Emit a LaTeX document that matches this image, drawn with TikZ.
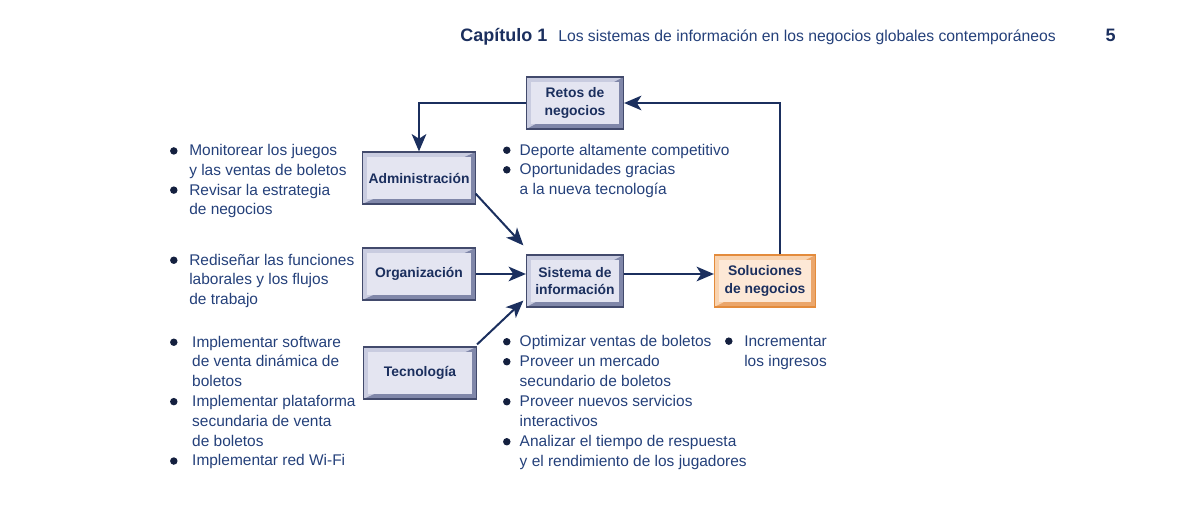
\documentclass[tikz,border=0pt]{standalone}
\usepackage{fontspec}
\setmainfont{Liberation Sans}
\usetikzlibrary{arrows.meta}

\definecolor{navy}{HTML}{1B2F5E}
\definecolor{dotcol}{HTML}{14203F}
\definecolor{txtblue}{HTML}{24407A}
\definecolor{boxline}{HTML}{424A6C}
\definecolor{bevlight}{HTML}{C9CCE0}
\definecolor{bevdark}{HTML}{8087A9}
\definecolor{boxfill}{HTML}{E4E5F1}
\definecolor{orline}{HTML}{E38B3C}
\definecolor{orlight}{HTML}{F9D3AF}
\definecolor{ordark}{HTML}{EBA66B}
\definecolor{orfill}{HTML}{FDE8D6}

\newcommand\boxfont{\fontsize{10.4}{13}\selectfont\bfseries}
\newcommand\bulletfont{\fontsize{11.6}{14.7}\selectfont}
\newcommand\bul[1][14.4pt]{\makebox[#1][l]{\tikz[baseline=0pt]\fill[dotcol] (2.8pt,3.7pt) circle (2.8pt);}}
\newcommand\cont[1][14.4pt]{\hspace*{#1}}

\begin{document}
\begin{tikzpicture}[x=0.75pt, y=-0.75pt,
  framed/.style n args={4}{draw=#1, line width=0.9pt, fill=#2, inner sep=0pt,
    align=center, text=navy, font=\boxfont, minimum height=39pt,
    path picture={
      \fill[#3] (path picture bounding box.south west) -- (path picture bounding box.south east)
        -- (path picture bounding box.north east) -- cycle;
      \fill[#4] ([shift={(3.5pt,-3.5pt)}]path picture bounding box.north west)
        rectangle ([shift={(-3.5pt,3.5pt)}]path picture bounding box.south east);
    }},
  block/.style={framed={boxline}{bevlight}{bevdark}{boxfill}},
  goal/.style={framed={orline}{orlight}{ordark}{orfill}},
  flow/.style={draw=navy, line width=1.5pt, -{Stealth[length=13pt,width=11pt,inset=3.5pt]}},
  bullets/.style={anchor=north west, inner sep=0pt, align=left, text=txtblue, font=\bulletfont}]

  \useasboundingbox (0,0) rectangle (1178,523);

  % header line
  \node[anchor=base west, inner sep=0pt, text=navy, font=\fontsize{13.5}{16}\selectfont\bfseries]
    (chap) at (460,42) {Capítulo 1};
  \node[anchor=base west, inner sep=0pt, text=txtblue, font=\fontsize{11.8}{14}\selectfont]
    (title) at (558,42) {Los sistemas de información en los negocios globales contemporáneos};
  \node[anchor=base east, inner sep=0pt, text=navy, font=\fontsize{13.5}{16}\selectfont\bfseries]
    (page) at (1116,42) {5};

  % boxes
  \node[block, minimum width=72.75pt] (retos) at (575,103) {Retos de\\negocios};
  \node[block, minimum width=84.75pt] (adm) at (419,178) {Administración};
  \node[block, minimum width=84.75pt] (org) at (419,274) {Organización};
  \node[block, minimum width=84.75pt] (tec) at (420,373) {Tecnología};
  \node[block, minimum width=72.75pt] (sis) at (575,281) {Sistema de\\información};
  \node[goal, minimum width=75.75pt] (sol) at (765,281) {Soluciones\\de negocios};

  % connectors
  \draw[flow] (retos.west) -| (adm.north);
  \draw[flow] ([xshift=11.25pt]sol.north) |- (retos.east);
  \draw[flow] ([shift={(-0.4pt,8.25pt)}]adm.south east) -- ([shift={(-1.9pt,6.75pt)}]sis.north west);
  \draw[flow] (org.east) -- (org.east -| sis.west);
  \draw[flow] ([yshift=1.5pt]tec.north east) -- ([shift={(-1.9pt,5.25pt)}]sis.south west);
  \draw[flow] (org.east -| sis.east) -- (org.east -| sol.west);

  % bullet lists
  \node[bullets] (admtxt) at (169.8,144.4) {\bul Monitorear los juegos\\
    \cont y las ventas de boletos\\
    \bul Revisar la estrategia\\
    \cont de negocios};
  \node[bullets] (orgtxt) at (169.8,253.7) {\bul Rediseñar las funciones\\
    \cont laborales y los flujos\\
    \cont de trabajo};
  \node[bullets, font=\fontsize{11.6}{14.85}\selectfont] (tectxt) at (169.8,335.7) {\bul[16.6pt]Implementar software\\
    \cont[16.6pt]de venta dinámica de\\
    \cont[16.6pt]boletos\\
    \bul[16.6pt]Implementar plataforma\\
    \cont[16.6pt]secundaria de venta\\
    \cont[16.6pt]de boletos\\
    \bul[16.6pt]Implementar red Wi-Fi};
  \node[bullets] (retostxt) at (502.8,143.7) {\bul[12.5pt]Deporte altamente competitivo\\
    \bul[12.5pt]Oportunidades gracias\\
    \cont[12.5pt]a la nueva tecnología};
  \node[bullets, font=\fontsize{11.6}{15}\selectfont] (sistxt) at (502.8,335.2) {\bul[12.5pt]Optimizar ventas de boletos\\
    \bul[12.5pt]Proveer un mercado\\
    \cont[12.5pt]secundario de boletos\\
    \bul[12.5pt]Proveer nuevos servicios\\
    \cont[12.5pt]interactivos\\
    \bul[12.5pt]Analizar el tiempo de respuesta\\
    \cont[12.5pt]y el rendimiento de los jugadores};
  \node[bullets, font=\fontsize{11.6}{15}\selectfont] (soltxt) at (724.8,335.2) {\bul Incrementar\\
    \cont los ingresos};
\end{tikzpicture}
\end{document}
